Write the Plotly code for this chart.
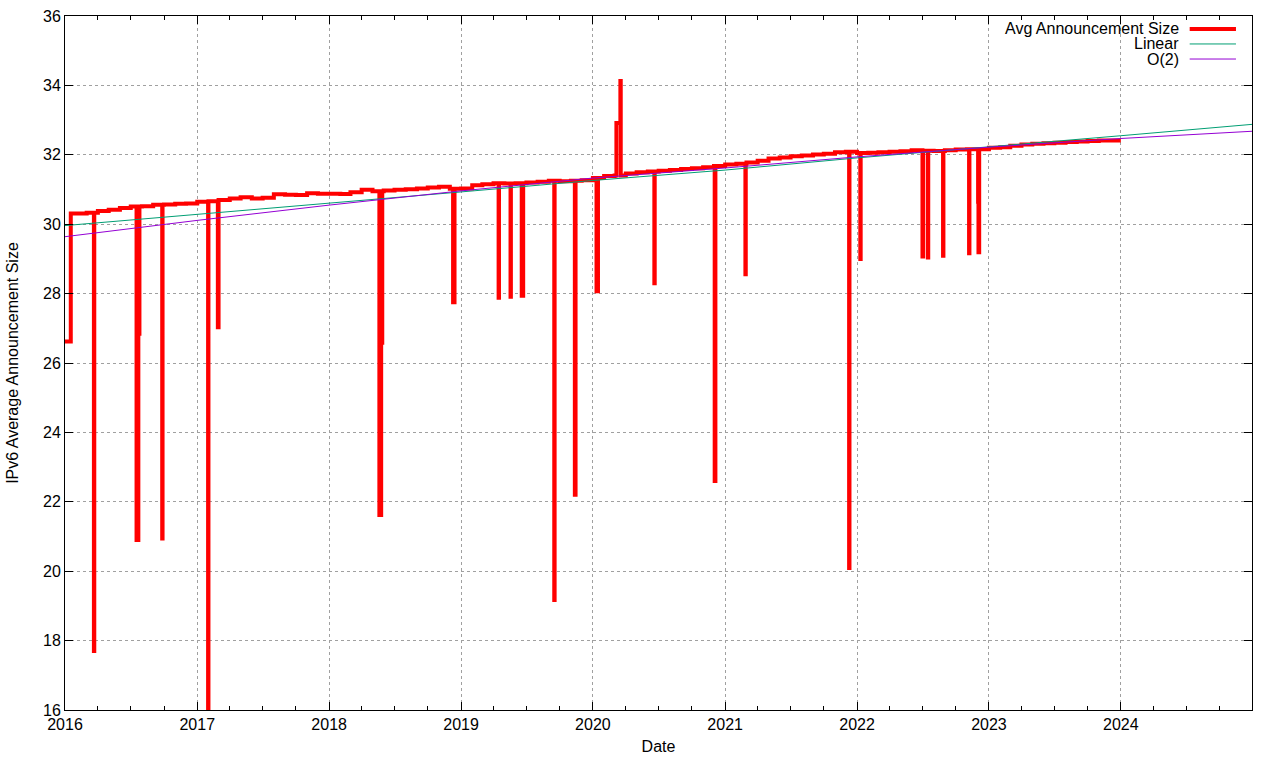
import pandas as pd
import plotly.graph_objects as go

# ---------------- data ----------------
# Baseline (monthly steps) of the average IPv6 announcement size
base_dates = (["2016-01-01", "2016-01-17"]
              + [d.strftime("%Y-%m-%d") for d in pd.date_range("2016-02-01", "2023-12-01", freq="MS")]
              + ["2024-01-01"])
base_values = [
    26.62, 30.31,
    # 2016 Feb..Dec
    30.31, 30.33, 30.38, 30.42, 30.47, 30.51, 30.52, 30.56, 30.57, 30.59, 30.60,
    # 2017
    30.65, 30.66, 30.70, 30.74, 30.78, 30.74, 30.76, 30.86, 30.85, 30.84, 30.89, 30.88,
    # 2018
    30.88, 30.87, 30.92, 30.99, 30.95, 30.97, 30.99, 31.01, 31.03, 31.06, 31.08, 31.02,
    # 2019
    31.03, 31.12, 31.15, 31.18, 31.17, 31.18, 31.20, 31.22, 31.25, 31.24, 31.25, 31.27,
    # 2020
    31.33, 31.39, 31.40, 31.46, 31.50, 31.52, 31.54, 31.56, 31.59, 31.61, 31.64, 31.68,
    # 2021
    31.72, 31.74, 31.78, 31.83, 31.89, 31.92, 31.96, 31.98, 32.01, 32.03, 32.07, 32.09,
    # 2022
    32.05, 32.06, 32.07, 32.09, 32.10, 32.13, 32.12, 32.11, 32.13, 32.15, 32.16, 32.16,
    # 2023
    32.20, 32.22, 32.26, 32.30, 32.32, 32.33, 32.35, 32.37, 32.38, 32.40, 32.41, 32.41,
    # end
    32.41,
]

# Short-lived anomalies (dips / spikes): start date, value, duration in days
dip_dates = ["2016-03-21", "2016-07-17", "2016-07-22", "2016-09-26", "2017-01-31",
             "2017-02-27", "2018-05-20", "2018-05-25", "2018-12-10", "2019-04-15",
             "2019-05-18", "2019-06-18", "2019-09-16", "2019-11-12", "2020-01-11",
             "2020-03-06", "2020-03-17", "2020-06-19", "2020-12-03", "2021-02-26",
             "2021-12-10", "2022-01-10", "2022-07-01", "2022-07-16", "2022-08-27",
             "2022-11-07", "2022-12-02", "2022-12-03"]
dip_values = [17.70, 20.90, 26.84, 20.94, 16.06,
              27.03, 21.62, 26.58, 27.75, 27.88,
              27.91, 27.94, 19.17, 22.20, 28.07,
              32.92, 34.13, 28.30, 22.60, 28.56,
              20.09, 29.00, 29.07, 29.04, 29.09,
              29.16, 30.65, 29.19]
dip_days = [1, 5, 3, 1, 1,
            4, 5, 3, 4, 1,
            1, 4, 1, 2, 4,
            11, 1, 1, 2, 1,
            1, 1, 2, 1, 1,
            1, 1, 2]

# Fitted curves (read at yearly points)
fit_dates = ["2016-01-01", "2017-01-01", "2018-01-01", "2019-01-01", "2020-01-01",
             "2021-01-01", "2022-01-01", "2023-01-01", "2024-01-01", "2025-01-01"]
linear_fit = [29.96, 30.28, 30.61, 30.93, 31.26, 31.56, 31.91, 32.22, 32.55, 32.88]
quad_fit = [29.64, 30.11, 30.55, 30.96, 31.33, 31.62, 31.94, 32.22, 32.47, 32.68]

# ---------------- build the step series ----------------
bd = pd.to_datetime(base_dates)
bs = pd.Series(base_values, index=bd)


def base_at(t):
    return bs[bs.index <= t].iloc[-1]


dip_starts = pd.to_datetime(dip_dates)
points = {t: v for t, v in zip(bd, base_values)}
recoveries = {}
for t, v, d in zip(dip_starts, dip_values, dip_days):
    points[t] = v
    end = t + pd.Timedelta(days=d)
    recoveries[end] = base_at(end)
for t, v in recoveries.items():
    if t not in set(dip_starts):
        points[t] = v
xs = sorted(points)
ys = [points[t] for t in xs]

RED = "#ff0000"
GREEN = "#009e73"
PURPLE = "#9400d3"
FONT = "Liberation Sans, Arial, sans-serif"
FS = 16

fig = go.Figure()
fig.add_trace(go.Scatter(x=xs, y=ys, mode="lines", line=dict(color=RED, width=4, shape="hv"),
                         name="Avg Announcement Size", showlegend=False))
fig.add_trace(go.Scatter(x=pd.to_datetime(fit_dates), y=linear_fit, mode="lines",
                         line=dict(color=GREEN, width=1), name="Linear", showlegend=False))
fig.add_trace(go.Scatter(x=pd.to_datetime(fit_dates), y=quad_fit, mode="lines",
                         line=dict(color=PURPLE, width=1), name="O(2)", showlegend=False))

# gnuplot-style key: text right-aligned, sample line to its right
key = [("Avg Announcement Size", RED, 4), ("Linear", GREEN, 1), ("O(2)", PURPLE, 1)]
key_y = [0.9813, 0.9597, 0.938]
annotations = []
shapes = []
for (label, col, w), yy in zip(key, key_y):
    annotations.append(dict(x=0.9405, y=yy, xref="paper", yref="paper", text=label,
                            showarrow=False, xanchor="right", yanchor="middle",
                            font=dict(family=FONT, size=FS, color="black")))
    shapes.append(dict(type="line", xref="paper", yref="paper", x0=0.9475, x1=0.9865,
                       y0=yy, y1=yy, line=dict(color=col, width=w)))

axis_common = dict(
    showline=True, linecolor="black", linewidth=1, mirror="ticks",
    ticks="inside", tickcolor="black", tickwidth=1,
    showgrid=True, gridcolor="#a0a0a0", griddash="dot", gridwidth=1,
    zeroline=False, automargin=False,
    tickfont=dict(family=FONT, size=FS, color="black"),
)

fig.update_layout(
    width=1280, height=760,
    margin=dict(l=65, r=28, t=16, b=50),
    paper_bgcolor="white", plot_bgcolor="white",
    font=dict(family=FONT, size=FS, color="black"),
    annotations=annotations, shapes=shapes,
    xaxis=dict(type="date", range=["2016-01-01", "2024-12-29"], dtick="M12", tickformat="%Y",
               tick0="2016-01-01", ticklen=8,
               minor=dict(dtick="M3", ticks="inside", ticklen=4, tickcolor="black", showgrid=False),
               title=dict(text="Date", font=dict(family=FONT, size=FS), standoff=8),
               **axis_common),
    yaxis=dict(range=[16, 36], dtick=2, ticklen=8,
               title=dict(text="IPv6 Average Announcement Size", font=dict(family=FONT, size=FS), standoff=20),
               **axis_common),
    showlegend=False,
)

fig.write_html("out.html", config={"displayModeBar": False},
               post_script="document.body.style.margin='0px';document.body.style.padding='0px';")
